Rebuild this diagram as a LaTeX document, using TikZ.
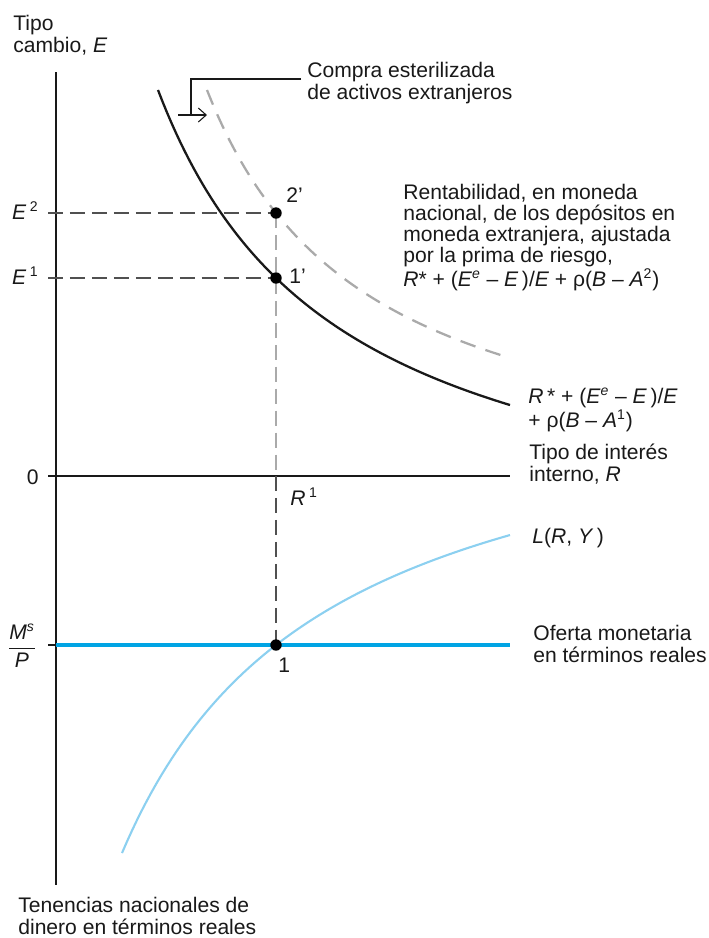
\documentclass[tikz,border=0pt]{standalone}
\usepackage{fontspec}
\setmainfont{Liberation Sans}
\usepackage{xcolor}
\usetikzlibrary{arrows.meta,positioning}

\definecolor{moneyblue}{RGB}{0,164,228}
\definecolor{demandblue}{RGB}{140,208,240}
\definecolor{shiftgray}{RGB}{170,170,170}
\definecolor{guidegray}{RGB}{80,80,80}

\begin{document}
\begin{tikzpicture}[
    x=0.02cm, y=-0.02cm,
    lbl/.style={inner sep=0pt, anchor=base west, align=left, font=\fontsize{12}{12}\selectfont, text=black!90},
    axis/.style={line width=1.15pt, draw=black!90},
    tick/.style={line width=0.6pt, draw=black!90},
    guide/.style={dash pattern=on 8.5pt off 4pt, line width=0.7pt, draw=guidegray},
    guidelight/.style={dash pattern=on 8.5pt off 4pt, line width=0.9pt, draw=shiftgray},
    dot/.style={circle, fill=black, inner sep=0pt, minimum size=6.5pt},
    curve/.style={line width=1.3pt, draw=black!90},
    shifted/.style={line width=1.3pt, draw=shiftgray, dash pattern=on 9pt off 6pt},
    pointer/.style={line width=0.6pt, draw=black!90}
]
    \useasboundingbox (0,0) rectangle (709,938);

    % axes
    \coordinate (ytop) at (56,72);
    \coordinate (ybot) at (56,885);
    \coordinate (zleft) at (48,476);
    \coordinate (zright) at (510,476);
    \coordinate (mleft) at (48,645);
    \coordinate (maxis) at (56,645);
    \coordinate (mright) at (510,645);
    \draw[axis] (ytop) -- (ybot);
    \draw[tick] (zleft) -- (zright);

    % curves
    \draw[shifted] plot[domain=207:510, samples=80] (\x, {500.7 - 662.89/((\x-45.6)/100)});
    \draw[curve] plot[domain=158:510, samples=80] (\x, {567.8 - 869.14/((\x+23.9)/100)});
    \draw[line width=1.2pt, draw=demandblue] plot[domain=122:510, samples=80] (\x, {365.3 + 1010.07/((\x+85.1)/100)});
    \draw[tick] (mleft) -- (maxis);
    \draw[line width=1.8pt, draw=moneyblue] (maxis) -- (mright);

    % guides, then the equilibrium points on top
    \coordinate (e2tick) at (48,213);
    \coordinate (e1tick) at (48,278);
    \coordinate (p2) at (276,213);
    \coordinate (p1) at (276,278);
    \coordinate (pm) at (276,645);
    \coordinate (rzero) at (276,476);

    \draw[guide] (e2tick) -- (p2);
    \draw[guide] (e1tick) -- (p1);
    \draw[guidelight] (p2) -- (rzero);
    \draw[guide] (rzero) -- (pm);

    \node[dot] (eq2) at (p2) {};
    \node[dot] (eq1) at (p1) {};
    \node[dot] (eqm) at (pm) {};

    % axis labels (multi-line nodes sit on their last baseline)
    \node[lbl] (etitle) at (13,52) {Tipo\\cambio, \textit{E}};
    \node[lbl, anchor=base east] (e2) at (39,219) {\textit{E}\,\textsuperscript{2}};
    \node[lbl, anchor=base east] (e1) at (39,284) {\textit{E}\,\textsuperscript{1}};
    \node[lbl, anchor=base east] (zero) at (39,484) {0};
    \node[lbl, anchor=center] (msp) at (22,646) {$\displaystyle\frac{\mbox{\textit{M}\textsuperscript{\textit{s}}}}{\mbox{\textit{P}}}$};
    \node[lbl] (r1) at (290,505) {\textit{R}\,\textsuperscript{1}};
    \node[lbl] (lab2) at (286,202) {2'};
    \node[lbl] (lab1) at (289,283) {1'};
    \node[lbl] (labm) at (278,672) {1};
    \node[lbl] (holdings) at (18,934) {Tenencias nacionales de\\dinero en términos reales};

    % curve labels
    \node[lbl] (compra) at (307,99) {Compra esterilizada\\de activos extranjeros};
    \node[lbl] (rate2) at (403,286) {Rentabilidad, en moneda\\nacional, de los depósitos en\\moneda extranjera, ajustada\\por la prima de riesgo,\\\textit{R}* + (\textit{E}\textsuperscript{\textit{e}} – \textit{E}\,)/\textit{E} + ρ(\textit{B} – \textit{A}\textsuperscript{2})};
    \node[lbl] (rate1) at (528,427) {\textit{R}\,* + (\textit{E}\textsuperscript{\textit{e}} – \textit{E}\,)/\textit{E}\\+ ρ(\textit{B} – \textit{A}\textsuperscript{1})};
    \node[lbl] (rlabel) at (529,481) {Tipo de interés\\interno, \textit{R}};
    \node[lbl] (lrylabel) at (532,543) {\textit{L}(\textit{R}, \textit{Y}\,)};
    \node[lbl] (supply) at (533,662) {Oferta monetaria\\en términos reales};

    % sterilized purchase pointer
    \coordinate (lead) at (301,79);
    \coordinate (bend) at (191,115);
    \coordinate (arrfrom) at (178,115);
    \coordinate (arrto) at (207,115);
    \draw[pointer] (lead) -| (bend);
    \draw[pointer, -{Straight Barb[length=4.5pt, width=8pt]}] (arrfrom) -- (arrto);
\end{tikzpicture}
\end{document}
